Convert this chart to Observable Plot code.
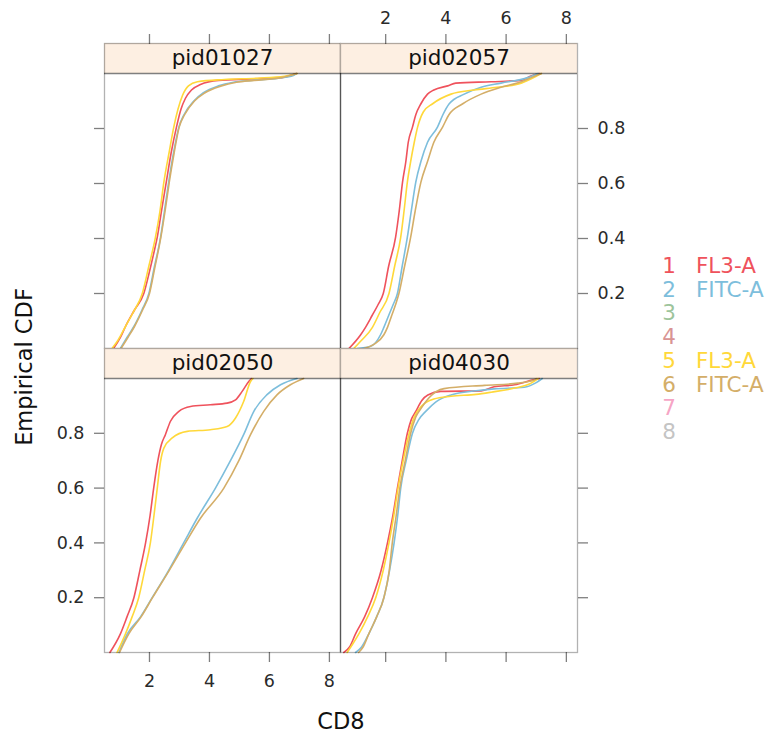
<!DOCTYPE html>
<html>
<head>
<meta charset="utf-8">
<script src="https://cdn.jsdelivr.net/npm/d3@7"></script>
<script src="https://cdn.jsdelivr.net/npm/@observablehq/plot@0.6"></script>
<style>
  body { margin: 0; background: #fff; }
  #chart { position: relative; width: 775px; height: 737px; overflow: hidden;
           font-family: "DejaVu Sans", sans-serif; color: #111; }
  #chart svg { position: absolute; left: 0; top: 0; }
  .t { position: absolute; white-space: nowrap; line-height: 1; }
</style>
</head>
<body>
<div id="chart"></div>
<script>
// Empirical CDF of CD8 per patient; each array holds [CD8, cumulative proportion]

// pid01027
const p01027_s1 = [[0.80,0],[1.03,0.04],[1.20,0.08],[1.50,0.14],[1.81,0.20],[2.00,0.28],[2.15,0.35],[2.26,0.405],[2.40,0.50],[2.56,0.605],[2.72,0.71],[2.90,0.805],[3.05,0.87],[3.20,0.91],[3.40,0.94],[3.70,0.96],[4.30,0.975],[5.40,0.98],[6.40,0.985],[6.90,1]];
const p01027_s2 = [[1.03,0],[1.25,0.04],[1.48,0.08],[1.75,0.14],[1.98,0.20],[2.15,0.29],[2.37,0.405],[2.50,0.50],[2.64,0.605],[2.80,0.71],[2.98,0.805],[3.15,0.85],[3.48,0.90],[3.80,0.93],[4.30,0.955],[4.80,0.968],[5.40,0.975],[6.30,0.983],[6.80,0.993],[6.90,1]];
const p01027_s5 = [[0.75,0],[0.95,0.03],[1.20,0.08],[1.45,0.13],[1.76,0.20],[1.98,0.30],[2.20,0.405],[2.35,0.50],[2.48,0.605],[2.65,0.71],[2.81,0.805],[2.95,0.87],[3.10,0.92],[3.30,0.955],[3.60,0.97],[4.50,0.978],[5.60,0.983],[6.50,0.99],[6.92,1]];
const p01027_s6 = [[1.05,0],[1.28,0.04],[1.50,0.08],[1.77,0.14],[2.00,0.20],[2.17,0.29],[2.38,0.405],[2.52,0.50],[2.66,0.605],[2.82,0.71],[2.99,0.805],[3.17,0.85],[3.50,0.90],[3.85,0.93],[4.40,0.955],[4.90,0.968],[5.50,0.975],[6.40,0.985],[6.92,1]];

// pid02057
const p02057_s1 = [[0.78,0],[1.17,0.05],[1.33,0.077],[1.55,0.12],[1.75,0.16],[1.92,0.20],[2.10,0.30],[2.33,0.405],[2.45,0.50],[2.56,0.605],[2.67,0.68],[2.75,0.75],[2.89,0.805],[3.00,0.85],[3.17,0.89],[3.39,0.925],[3.60,0.94],[4.06,0.955],[4.33,0.965],[5.50,0.97],[6.50,0.975],[6.80,0.99],[7.10,1]];
const p02057_s2 = [[1.06,0],[1.50,0.008],[1.83,0.05],[1.94,0.077],[2.10,0.12],[2.25,0.16],[2.39,0.20],[2.55,0.30],[2.72,0.405],[2.85,0.50],[3.00,0.605],[3.17,0.68],[3.39,0.75],[3.72,0.805],[3.90,0.85],[4.11,0.89],[4.61,0.925],[5.17,0.95],[5.83,0.965],[6.72,0.985],[7.06,1]];
const p02057_s5 = [[0.94,0],[1.20,0.03],[1.56,0.077],[1.80,0.13],[2.11,0.20],[2.30,0.30],[2.50,0.405],[2.61,0.50],[2.72,0.605],[2.83,0.68],[2.95,0.75],[3.06,0.805],[3.25,0.86],[3.56,0.89],[4.17,0.925],[4.94,0.94],[5.70,0.95],[6.50,0.965],[7.00,0.99],[7.17,1]];
const p02057_s6 = [[1.28,0],[1.61,0.015],[1.94,0.05],[2.06,0.077],[2.20,0.12],[2.33,0.16],[2.44,0.20],[2.63,0.30],[2.83,0.405],[2.98,0.50],[3.17,0.605],[3.39,0.68],[3.60,0.75],[3.89,0.805],[4.10,0.85],[4.56,0.89],[5.17,0.925],[5.83,0.95],[6.50,0.97],[6.83,0.985],[7.17,1]];

// pid02050
const p02050_s1 = [[0.68,0],[1.03,0.068],[1.25,0.13],[1.48,0.20],[1.68,0.30],[1.87,0.40],[2.02,0.50],[2.14,0.60],[2.28,0.70],[2.40,0.76],[2.53,0.795],[2.70,0.844],[2.98,0.88],[3.37,0.898],[4.03,0.904],[4.59,0.91],[4.87,0.922],[5.09,0.953],[5.31,0.989],[5.40,1]];
const p02050_s2 = [[0.98,0],[1.26,0.068],[1.70,0.13],[2.09,0.20],[2.64,0.30],[3.14,0.40],[3.59,0.49],[4.20,0.60],[4.70,0.70],[5.14,0.795],[5.48,0.88],[5.92,0.941],[6.37,0.977],[6.92,1]];
const p02050_s5 = [[0.92,0],[1.20,0.068],[1.42,0.13],[1.64,0.20],[1.84,0.30],[2.03,0.40],[2.15,0.50],[2.26,0.60],[2.37,0.698],[2.48,0.746],[2.76,0.783],[3.26,0.807],[4.03,0.813],[4.59,0.825],[4.87,0.856],[5.14,0.916],[5.37,0.989],[5.45,1]];
const p02050_s6 = [[1.00,0],[1.31,0.068],[1.72,0.13],[2.10,0.20],[2.66,0.30],[3.20,0.40],[3.70,0.49],[4.48,0.60],[4.98,0.70],[5.37,0.795],[5.81,0.88],[6.26,0.941],[6.70,0.977],[7.14,1]];

// pid04030
const p04030_s1 = [[0.61,0],[0.80,0.02],[1.00,0.068],[1.30,0.13],[1.56,0.20],[1.85,0.30],[2.06,0.40],[2.24,0.50],[2.39,0.60],[2.55,0.70],[2.72,0.80],[2.85,0.85],[3.00,0.88],[3.20,0.92],[3.40,0.94],[3.83,0.953],[5.17,0.955],[5.60,0.97],[6.28,0.977],[6.90,0.995],[7.10,1]];
const p04030_s2 = [[1.00,0],[1.20,0.02],[1.44,0.068],[1.70,0.13],[1.94,0.20],[2.13,0.30],[2.28,0.40],[2.40,0.50],[2.50,0.60],[2.68,0.70],[2.89,0.80],[3.10,0.85],[3.33,0.88],[3.67,0.915],[4.17,0.94],[5.00,0.955],[5.60,0.962],[6.60,0.968],[7.00,0.985],[7.20,1]];
const p04030_s5 = [[0.72,0],[0.90,0.03],[1.11,0.068],[1.40,0.13],[1.67,0.20],[1.92,0.30],[2.11,0.40],[2.27,0.50],[2.41,0.60],[2.58,0.70],[2.78,0.80],[2.95,0.86],[3.20,0.90],[3.60,0.925],[4.17,0.935],[5.00,0.942],[5.50,0.95],[6.28,0.965],[6.83,0.983],[7.06,1]];
const p04030_s6 = [[1.10,0],[1.25,0.02],[1.44,0.068],[1.70,0.13],[1.94,0.20],[2.12,0.30],[2.22,0.40],[2.35,0.50],[2.47,0.60],[2.65,0.70],[2.83,0.80],[3.00,0.86],[3.17,0.89],[3.44,0.93],[3.94,0.963],[5.28,0.975],[6.39,0.983],[6.94,0.995],[7.00,1]];

const panelNames = ["pid01027", "pid02057", "pid02050", "pid04030"];
const groupIds = [1, 2, 3, 4, 5, 6, 7, 8];
const groupLabels = ["FL3-A", "FITC-A", "", "", "FL3-A", "FITC-A", "", ""];
const groupColors = ["#ef525c", "#7dbedc", "#9dc49b", "#d99494", "#ffd83a", "#d4ae68", "#f6a5c5", "#c4c4c4"];
const xTicks = [2, 4, 6, 8];
const yTicks = [0.2, 0.4, 0.6, 0.8];

const panelCurves = {
  pid01027: [[1, p01027_s1], [2, p01027_s2], [5, p01027_s5], [6, p01027_s6]],
  pid02057: [[1, p02057_s1], [2, p02057_s2], [5, p02057_s5], [6, p02057_s6]],
  pid02050: [[1, p02050_s1], [2, p02050_s2], [5, p02050_s5], [6, p02050_s6]],
  pid04030: [[1, p04030_s1], [2, p04030_s2], [5, p04030_s5], [6, p04030_s6]]
};

// page layout (pixels)
const W = 775, H = 737;
const cols = [[104, 340], [340, 577]];
const rows = [[43, 348], [348, 652]];
const stripPx = 30;
const xDomain = [0.5, 8.37];
const stripFill = "#fdefe2";
const edge = {stroke: "#000", strokeOpacity: 0.3, strokeWidth: 1.3};
const tickStyle = {tickSize: 10, stroke: "#000", strokeOpacity: 0.5, strokeWidth: 1.3,
                   fill: "#2a2a2a", fontSize: 17.5, label: null};
const fmtX = d3.format("d"), fmtY = d3.format(".1f"), blank = () => "";

const chart = document.getElementById("chart");

panelNames.forEach((name, i) => {
  const r = Math.floor(i / 2), c = i % 2;
  const [x0, x1] = cols[c], [y0, y1] = rows[r];
  // the strip sits inside the frame, above y = 1
  const yTop = 1 + stripPx / (y1 - y0 - stripPx);
  const table = panelCurves[name].flatMap(([g, pts]) => pts.map(([x, F]) => ({g, x, F})));

  const marks = [
    Plot.rect([0], {x1: xDomain[0], x2: xDomain[1], y1: 1, y2: yTop, fill: stripFill}),
    Plot.line(table, {x: "x", y: "F", z: "g", stroke: "g", strokeWidth: 1.6, curve: "monotone-x"}),
    Plot.ruleY([1], {...edge, strokeOpacity: 0.5}),
    Plot.frame(edge),
    Plot.text([name], {frameAnchor: "top", dy: stripPx / 2, text: d => d,
                       fontSize: 21.5, fill: "#111", lineAnchor: "middle"})
  ];
  if (c === 0) marks.push(Plot.ruleX([xDomain[1]], {...edge}));
  if (r === 0) marks.push(Plot.axisX(xTicks, {anchor: "top", tickPadding: 10,
                           tickFormat: c === 1 ? fmtX : blank, ...tickStyle}));
  if (r === 1) marks.push(Plot.axisX(xTicks, {anchor: "bottom", tickPadding: 12,
                           tickFormat: c === 0 ? fmtX : blank, ...tickStyle}));
  if (c === 0) marks.push(Plot.axisY(yTicks, {anchor: "left", tickPadding: 10,
                           tickFormat: r === 1 ? fmtY : blank, ...tickStyle}));
  if (c === 1) marks.push(Plot.axisY(yTicks, {anchor: "right", tickPadding: 10,
                           tickFormat: r === 0 ? fmtY : blank, ...tickStyle}));

  const svg = Plot.plot({
    width: W, height: H,
    marginLeft: x0, marginRight: W - x1, marginTop: y0, marginBottom: H - y1,
    style: {background: "transparent", fontFamily: "DejaVu Sans, sans-serif", overflow: "visible"},
    x: {domain: xDomain, axis: null},
    y: {domain: [0, yTop], axis: null},
    color: {domain: groupIds, range: groupColors},
    marks
  });
  chart.appendChild(svg);
});

// axis titles
const div = (text, css) => {
  const d = document.createElement("div");
  d.className = "t";
  d.textContent = text;
  Object.assign(d.style, css);
  chart.appendChild(d);
  return d;
};
div("Empirical CDF", {left: "24px", top: "367px", fontSize: "22.5px",
     transform: "translate(-50%, -50%) rotate(-90deg)"});
div("CD8", {left: "341px", top: "721px", fontSize: "22.5px", transform: "translate(-50%, -50%)"});

// legend: group number and channel
groupIds.forEach((g, i) => {
  const y = 266 + 23.7 * i;
  div(String(g), {left: "669px", top: y + "px", fontSize: "21.5px", color: groupColors[i],
       transform: "translate(-50%, -50%)"});
  if (groupLabels[i]) div(groupLabels[i], {left: "696px", top: y + "px", fontSize: "21.5px",
       color: groupColors[i], transform: "translate(0, -50%)"});
});
</script>
</body>
</html>
